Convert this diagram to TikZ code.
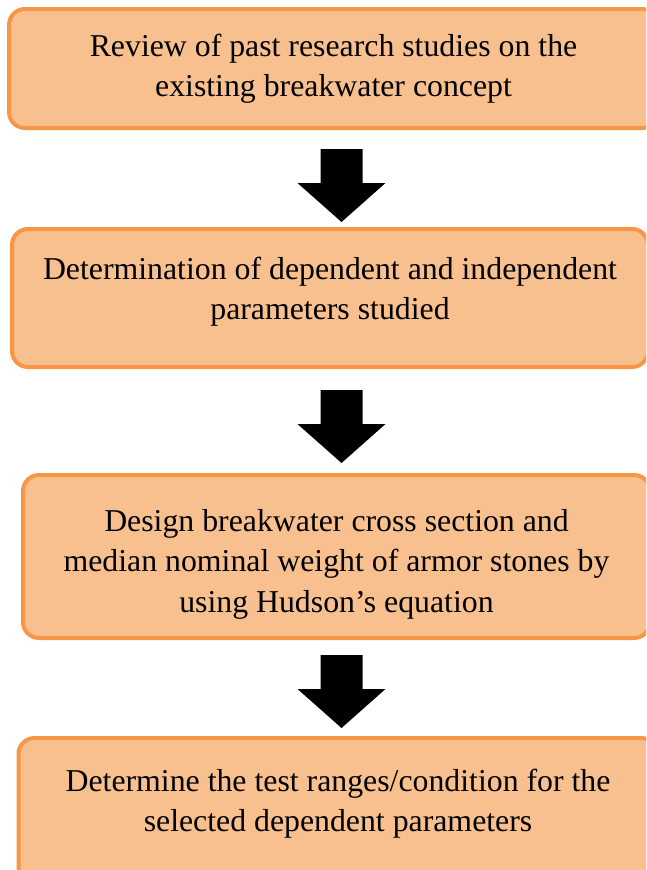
\documentclass[tikz,border=0pt]{standalone}
\usepackage{fontspec}
\setmainfont{Liberation Serif}
\usepackage{tikz}
\usetikzlibrary{positioning}
\definecolor{boxline}{RGB}{247, 150, 70}
\definecolor{boxfill}{RGB}{249, 192, 143}

\newcommand{\flowarrow}[1]{%
  \fill[black] (#1) ++(-21, 0) -- ++(42, 0) -- ++(0, 34) -- ++(23, 0)
    -- ++(-44, 39) -- ++(-44, -39) -- ++(23, 0) -- cycle;}

\begin{document}
\begin{tikzpicture}[x=1pt, y=-1pt,
  stepbox/.style={draw=boxline, fill=boxfill, line width=4pt,
    rounded corners=16pt, align=center, inner sep=0pt,
    font=\fontsize{31.8}{40.5}\selectfont}]

  \useasboundingbox (0, 0) rectangle (646, 870);
  \clip (0, 0) rectangle (646, 870);

  \node[stepbox, minimum width=649pt, minimum height=119pt] (review) at (333.5, 68.5)
    {Review of past research studies on the\\existing breakwater concept};

  \node[stepbox, minimum width=636pt, minimum height=138pt, text depth=19pt] (params) at (330, 298)
    {Determination of dependent and independent\\parameters studied};

  \node[stepbox, minimum width=627pt, minimum height=163pt, text depth=0pt] (design) at (336.5, 556.5)
    {\rule{0pt}{30pt}Design breakwater cross section and\\median nominal weight of armor stones by\\using Hudson’s equation};

  \node[stepbox, minimum width=639pt, minimum height=160pt, text depth=35pt] (ranges) at (338, 818)
    {Determine the test ranges/condition for the\\selected dependent parameters};

  % block arrows between the steps
  \coordinate (a1) at (341.5, 149);
  \coordinate (a2) at (341.5, 390);
  \coordinate (a3) at (341.5, 655);
  \flowarrow{a1}
  \flowarrow{a2}
  \flowarrow{a3}

\end{tikzpicture}
\end{document}
